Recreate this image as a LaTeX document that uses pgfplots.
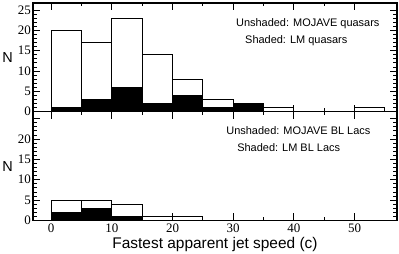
\documentclass[border=0pt]{standalone}
\usepackage{fontspec}
\setmainfont{Liberation Sans}
\newfontfamily\tickfont{Liberation Serif}
\usepackage{pgfplots}
\pgfplotsset{compat=1.18}
\begin{document}
\begin{tikzpicture}
\path[use as bounding box] (-33bp,-33.3bp) rectangle (366bp,220.4bp);
\pgfplotsset{
 panel/.style={
  width=364bp, height=108.7bp, scale only axis,
  xmin=-3, xmax=57, ymin=0, ymax=26.7,
  xtick={0,10,...,50}, minor x tick num=1,
  ytick={0,5,...,25}, minor y tick num=4,
  tick align=inside, xtick pos=both, ytick pos=both,
  xticklabel pos=left, yticklabel pos=left,
  major tick length=7bp, minor tick length=3.5bp,
  axis line style={line width=1.1bp},
  every tick/.style={line width=0.8bp, black},
  tick label style={font=\tickfont\fontsize{13}{13}\selectfont},
  /pgf/number format/assume math mode=true,
  yticklabel style={inner xsep=2bp},
  ylabel={N},
  ylabel style={rotate=-90, font=\fontsize{14.5}{14.5}\selectfont, at={(axis description cs:-0.07,0.5)}, anchor=center},
  clip=false,
 }
}
\begin{axis}[panel, at={(0,0)}, anchor=south west,
  yticklabels={0,5,10,15,20,{}},
  xlabel={Fastest apparent jet speed (c)},
  xlabel style={font=\fontsize{15.5}{15.5}\selectfont, at={(axis description cs:0.5,0)}, anchor=base, yshift=-28.3bp}]
\addplot[ybar interval, fill=white, draw=black, line width=0.9bp] coordinates {(0,5)(5,5)(10,4)(15,1)(20,1)(25,1)};
\addplot[ybar interval, fill=black, draw=black, line width=0.9bp] coordinates {(0,2)(5,3)(10,1)(15,1)};
\node[anchor=base west, font=\fontsize{11}{11}\selectfont] at (axis cs:28.3,21.0) {Unshaded: MOJAVE BL Lacs};
\node[anchor=base west, font=\fontsize{11}{11}\selectfont] at (axis cs:30.1,17.0) {Shaded: LM BL Lacs};
\end{axis}
\begin{axis}[panel, at={(0,108.7bp)}, anchor=south west,
  xticklabels={}]
\addplot[ybar interval, fill=white, draw=black, line width=0.9bp] coordinates {(0,20)(5,17)(10,23)(15,14)(20,8)(25,3)(30,2)(35,1)(40,0)(45,0)(50,1)(55,1)};
\addplot[ybar interval, fill=black, draw=black, line width=0.9bp] coordinates {(0,1)(5,3)(10,6)(15,2)(20,4)(25,1)(30,2)(35,2)};
\node[anchor=base west, font=\fontsize{11}{11}\selectfont] at (axis cs:29.9,20.9) {Unshaded: MOJAVE quasars};
\node[anchor=base west, font=\fontsize{11}{11}\selectfont] at (axis cs:31.4,16.8) {Shaded: LM quasars};
\end{axis}
\end{tikzpicture}
\end{document}
